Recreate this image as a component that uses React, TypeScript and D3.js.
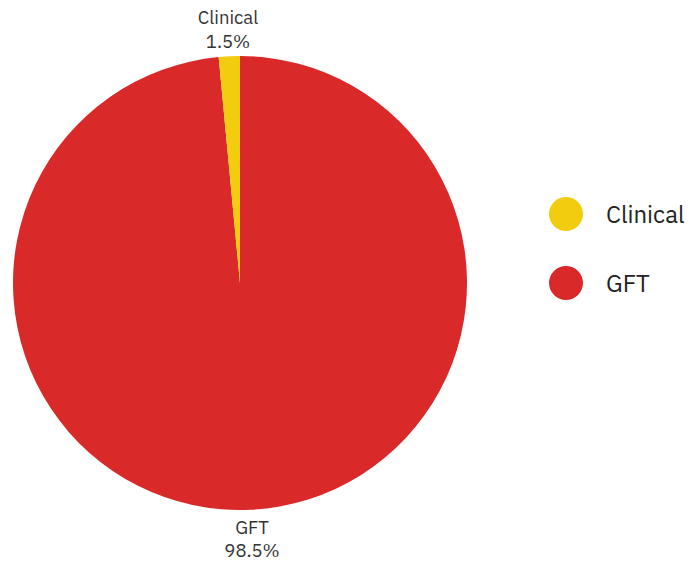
import React from "react";
import * as d3 from "d3";

const categories = ["GFT", "Clinical"];
const values = [98.5, 1.5];
const colors = ["#DA2929", "#F2CD0F"];
const legendOrder = ["Clinical", "GFT"];

export default function App() {
  const width = 689;
  const height = 562;
  const cx = 240;
  const cy = 283;
  const r = 227;
  const labelR = 255;
  const font = "'IBM Plex Sans', 'Open Sans', 'Noto Sans', sans-serif";

  const data = categories.map((c, i) => ({ name: c, value: values[i], color: colors[i] }));
  const pie = d3.pie<any>().value((d) => d.value).sort(null);
  const arcs = pie(data);
  const arc = d3.arc<any>().innerRadius(0).outerRadius(r);
  const total = d3.sum(values);

  return (
    <svg width={width} height={height} style={{ position: "absolute", left: 0, top: 0 }}>
      <g transform={`translate(${cx},${cy})`}>
        {arcs.map((a, i) => (
          <path key={i} d={arc(a) as string} fill={a.data.color} />
        ))}
        {arcs.map((a, i) => {
          const mid = (a.startAngle + a.endAngle) / 2;
          const x = labelR * Math.sin(mid);
          const y = -labelR * Math.cos(mid);
          const pct = ((a.data.value / total) * 100).toFixed(1) + "%";
          return (
            <text key={"l" + i} x={x} y={y} textAnchor="middle" fontFamily={font} fontSize={18.5} fill="#333">
              <tspan x={x} dy={-4}>{a.data.name}</tspan>
              <tspan x={x} dy={23.5}>{pct}</tspan>
            </text>
          );
        })}
      </g>
      {legendOrder.map((name, i) => {
        const idx = categories.indexOf(name);
        const y = 214 + i * 69;
        return (
          <g key={name}>
            <circle cx={566} cy={y} r={17} fill={colors[idx]} />
            <text x={606} y={y + 9} fontFamily={font} fontSize={24} fill="#222">{name}</text>
          </g>
        );
      })}
    </svg>
  );
}
